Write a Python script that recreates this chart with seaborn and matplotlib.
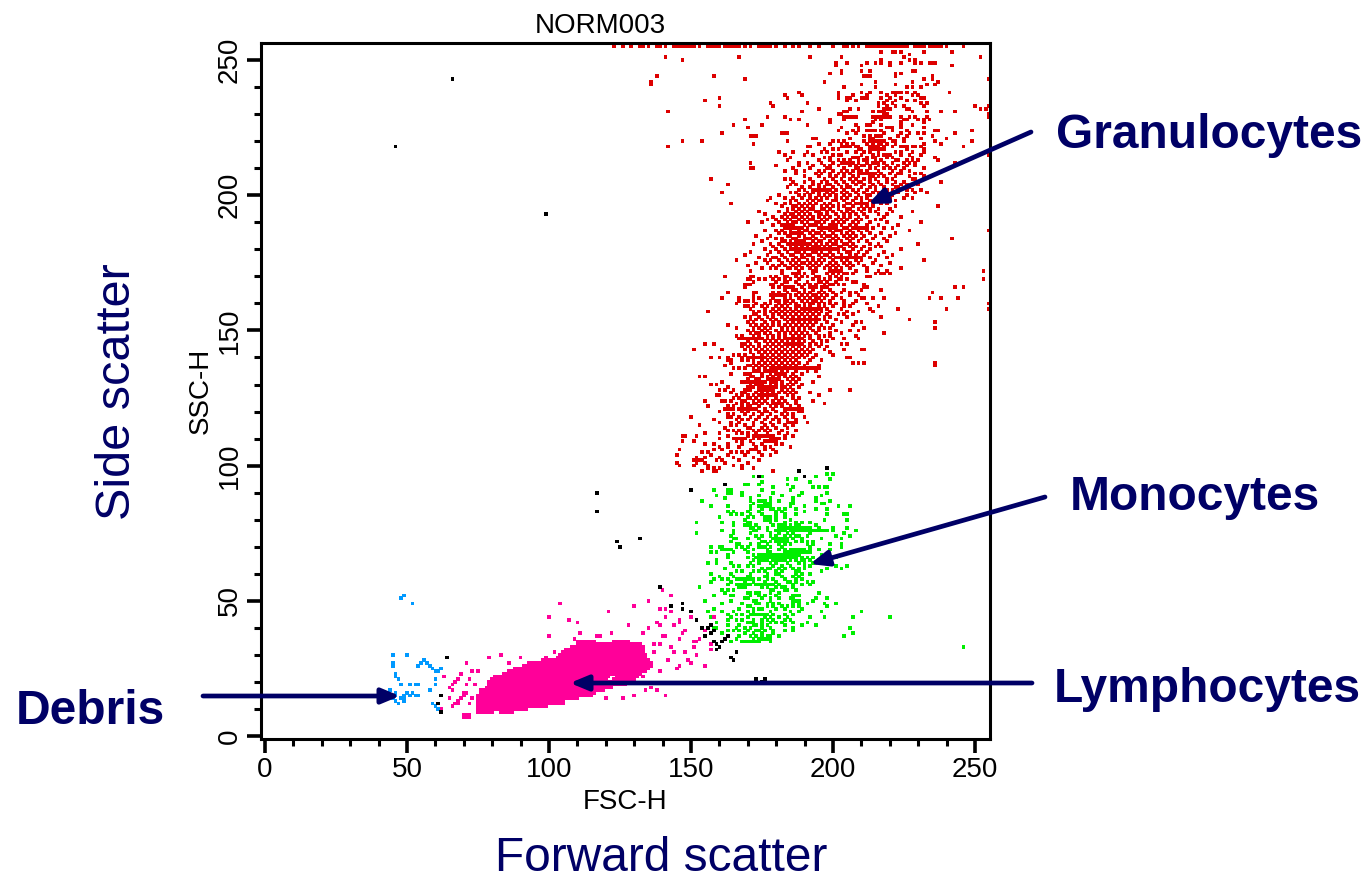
import matplotlib
matplotlib.use("Agg")
import matplotlib.pyplot as plt
from matplotlib.ticker import MultipleLocator
import pandas as pd
import seaborn as sns

# channel values: y level -> x channels
gran_levels = [255, 253, 252, 251, 250, 249, 248, 246, 245, 244, 243, 242, 241, 240, 238, 237, 236, 235, 234, 233, 232,
               231, 230, 229, 228, 227, 226, 225, 224, 223, 222, 221, 220, 219, 218, 217, 216, 215, 214, 213, 212, 211,
               210, 209, 208, 207, 206, 205, 204, 203, 202, 201, 200, 199, 198, 197, 196, 195, 194, 193, 192, 191, 190,
               189, 188, 187, 186, 185, 184, 183, 182, 181, 180, 179, 178, 177, 176, 175, 174, 173]
gran_rows = [
    [123, 126, 129, 132, 133, 135, 138, 139, 141, 144, 145, 146, 147, 148, 149, 150, 151, 153, 156, 157, 158, 159, 160, 162, 163, 164, 165, 166, 167, 169, 171, 174, 175, 176, 177, 178, 180, 183, 186, 188, 192, 195, 200, 204, 205, 207, 209, 212, 213, 214, 215, 216, 217, 218, 219, 220, 221, 222, 223, 224, 225, 226, 229, 230, 231, 232, 234, 235, 236, 237, 238, 240, 246],
    [217, 221, 222, 224, 232, 242],
    [227],
    [141, 167, 192, 203, 225, 252],
    [147, 217, 227, 229],
    [201, 205, 212, 215, 217, 220, 224, 229, 231, 234, 235, 236],
    [201, 210, 220, 242],
    [203, 210, 213, 228, 229],
    [199, 203, 222, 224],
    [138, 158, 211, 212, 213, 222, 235],
    [169, 232, 235, 255],
    [136, 197, 215, 228, 237],
    [136, 210, 222, 233, 236],
    [204, 215, 228, 231, 226],
    [188, 202, 210, 213, 217, 221, 222, 223, 224, 226, 229, 241],
    [183, 189, 202, 207, 212, 219, 222, 228, 230],
    [160, 184, 202, 205, 206, 210, 211, 212, 217, 220, 224, 231, 232],
    [155, 205, 208, 219, 222, 226, 229],
    [178, 191, 216, 218, 221, 231, 233],
    [160, 179, 216, 219, 222, 225, 232, 250, 255],
    [195, 206, 209, 218, 219, 220, 226, 227, 252, 254],
    [142, 189, 204, 205, 214, 216, 217, 218, 228, 233, 238, 243],
    [202, 203, 218, 219, 255],
    [177, 183, 204, 205, 206, 207, 208, 214, 215, 216, 217, 218, 219, 220, 224, 227, 229, 233, 255],
    [169, 185, 188, 199, 204, 215, 217, 225, 226, 230, 232, 234],
    [199, 214, 224, 232],
    [165, 175, 191, 208, 212, 213, 217, 224, 228],
    [170, 203, 209, 219, 220, 221, 224, 232],
    [202, 207, 209, 212, 213, 214, 215, 217, 221, 226, 236, 237, 249],
    [161, 182, 183, 184, 205, 208, 218, 224, 227, 230, 232, 243],
    [171, 172, 173, 211, 213, 215, 216, 217, 223, 226, 235],
    [193, 194, 206, 213, 214, 220, 225, 231, 240],
    [147, 154, 184, 200, 202, 204, 211, 213, 215, 216, 217, 218, 221, 222, 225, 236, 249],
    [172, 195, 199, 203, 205, 207, 212, 214, 216, 217, 219, 222, 232, 238],
    [142, 191, 192, 203, 204, 205, 206, 208, 209, 213, 214, 215, 216, 218, 221, 224, 225, 226, 228, 229, 231, 246],
    [197, 200, 202, 209, 210, 214, 215, 216, 217, 218, 226, 232],
    [181, 186, 191, 196, 198, 205, 208, 211, 213, 216, 222, 224, 228, 232, 255],
    [183, 190, 193, 200, 202, 203, 210, 214, 216, 218, 219, 220, 224, 227, 231, 255],
    [185, 197, 199, 207, 208, 209, 212, 214, 215, 219, 221, 228, 236],
    [184, 195, 199, 202, 204, 206, 209, 211, 212, 215, 217, 222, 223, 226, 228, 230, 237],
    [171, 188, 191, 196, 200, 203, 205, 207, 209, 212, 214, 215, 216, 218, 221, 225, 227, 229, 243],
    [180, 188, 193, 197, 199, 202, 206, 208, 210, 211, 213, 216, 219, 223, 226, 229],
    [171, 172, 186, 192, 198, 199, 204, 208, 209, 213, 215, 218, 220, 222, 225, 232],
    [183, 187, 190, 195, 197, 200, 203, 205, 207, 209, 210, 212, 216, 221, 224, 227],
    [187, 194, 196, 199, 202, 204, 206, 209, 213, 217, 220, 223, 224, 229, 231],
    [190, 195, 199, 201, 204, 207, 209, 213, 214, 216, 218, 222, 227, 232],
    [157, 183, 185, 192, 197, 200, 203, 206, 208, 211, 213, 215, 219, 221, 228, 229],
    [186, 190, 193, 196, 198, 201, 204, 207, 209, 210, 213, 216, 219, 222, 225, 238],
    [163, 185, 187, 193, 195, 198, 199, 202, 205, 208, 211, 214, 217, 221, 224, 226, 230],
    [184, 189, 192, 195, 197, 200, 203, 205, 206, 210, 213, 215, 218, 222, 223, 227],
    [188, 190, 194, 196, 199, 201, 204, 207, 209, 212, 215, 219, 221, 226, 228, 231],
    [161, 185, 187, 191, 193, 195, 198, 200, 203, 205, 208, 211, 214, 216, 219, 223, 229, 233],
    [181, 188, 190, 192, 195, 197, 199, 201, 204, 206, 209, 212, 213, 216, 221, 226],
    [178, 183, 186, 189, 192, 194, 196, 198, 201, 203, 205, 208, 210, 212, 216, 218, 220, 225, 228],
    [177, 185, 187, 191, 193, 195, 196, 200, 201, 204, 207, 210, 213, 215, 218, 222],
    [164, 180, 183, 185, 188, 190, 192, 194, 197, 199, 202, 205, 206, 208, 211, 214, 217, 219],
    [182, 186, 187, 189, 191, 193, 196, 198, 200, 202, 204, 207, 210, 212, 214, 222, 237],
    [184, 186, 188, 190, 192, 193, 196, 197, 199, 202, 205, 206, 209, 211, 213, 216, 220],
    [174, 181, 184, 187, 189, 191, 194, 195, 198, 200, 203, 205, 207, 210, 213, 215, 221, 228],
    [176, 183, 185, 186, 188, 190, 192, 195, 196, 198, 201, 204, 206, 208, 211, 216, 219],
    [179, 182, 184, 186, 187, 189, 191, 193, 195, 197, 199, 202, 204, 206, 209, 212, 218, 224],
    [177, 180, 183, 185, 188, 190, 192, 193, 196, 198, 201, 203, 205, 208, 210, 215, 217],
    [170, 175, 181, 184, 186, 187, 189, 191, 194, 195, 197, 200, 202, 204, 207, 209, 213, 219, 231],
    [179, 182, 183, 184, 185, 186, 190, 192, 193, 194, 196, 199, 200, 201, 203, 206, 208, 212, 216, 223],
    [183, 184, 185, 186, 187, 188, 189, 191, 195, 197, 198, 199, 200, 201, 204, 205, 208, 211, 214, 218, 221],
    [176, 180, 182, 185, 188, 190, 191, 193, 196, 199, 201, 202, 203, 206, 209, 212, 227, 255],
    [181, 183, 186, 187, 189, 192, 194, 195, 197, 200, 203, 205, 207, 210, 213, 217, 222],
    [173, 178, 184, 185, 188, 190, 193, 196, 198, 199, 201, 204, 206, 208, 211, 215, 220],
    [177, 180, 182, 186, 187, 190, 191, 192, 194, 197, 200, 202, 205, 207, 210, 214, 218, 242],
    [175, 182, 183, 185, 187, 188, 189, 190, 193, 195, 196, 199, 201, 203, 206, 209, 212, 219],
    [172, 178, 181, 184, 186, 188, 191, 192, 194, 196, 198, 200, 201, 204, 205, 207, 213, 216, 230],
    [179, 182, 185, 187, 189, 191, 193, 194, 195, 197, 199, 202, 203, 206, 208, 211, 215, 217],
    [176, 180, 183, 185, 186, 189, 190, 192, 195, 198, 200, 201, 204, 207, 210, 213, 224],
    [171, 178, 181, 184, 187, 188, 190, 193, 194, 196, 199, 202, 205, 206, 209, 212, 218],
    [169, 177, 182, 185, 186, 189, 191, 192, 195, 197, 198, 200, 203, 206, 208, 211, 216, 221],
    [174, 179, 180, 183, 187, 189, 190, 193, 196, 199, 201, 202, 204, 207, 213, 219],
    [166, 176, 178, 181, 184, 186, 188, 191, 193, 195, 197, 200, 203, 205, 208, 210, 215, 232],
    [173, 177, 182, 185, 187, 189, 190, 192, 194, 196, 199, 201, 204, 206, 209, 214, 220],
    [170, 179, 181, 183, 186, 188, 191, 193, 195, 198, 200, 202, 205, 207, 211, 217],
    [175, 178, 180, 184, 185, 187, 189, 192, 194, 197, 199, 201, 203, 206, 212, 224],
]
gran_mid_levels = [172, 171, 170, 169, 168, 167, 166, 165, 164, 163, 162, 161, 160, 159, 158, 157, 156, 155, 154, 153,
                   152, 151, 150, 149, 148, 147, 146, 145, 144, 143, 142, 141, 140, 139, 138, 137, 136, 135, 134, 133,
                   132, 131, 130, 129, 128, 127, 126, 125, 124, 123, 122, 121, 120, 119, 118, 117, 116, 115, 114, 113,
                   112, 111, 110, 109, 108, 107, 106, 105, 104, 103, 102, 101, 100, 99, 98]
gran_mid_rows = [
    [171, 182, 188, 193, 194, 199, 200, 201, 202, 203, 208, 212, 216, 219, 253],
    [182, 186, 187, 188, 190, 193, 198, 200, 202, 204, 205, 207, 215, 217, 218, 220],
    [162, 171, 172, 178, 180, 183, 184, 187, 189, 191, 194, 195, 199, 201, 203, 212, 213],
    [170, 171, 174, 176, 179, 181, 183, 185, 188, 193, 195, 197, 199, 202, 203, 205, 253],
    [172, 180, 183, 184, 187, 191, 195, 196, 198, 201, 207, 208],
    [178, 179, 182, 188, 190, 192, 194, 197, 199, 200, 202, 204, 211],
    [169, 179, 181, 183, 184, 185, 186, 189, 192, 193, 194, 196, 197, 198, 211, 212, 243, 246],
    [183, 186, 187, 190, 193, 196, 199, 204, 210, 217],
    [163, 172, 173, 179, 181, 184, 188, 190, 192, 195, 197, 200, 203, 206, 208, 235],
    [172, 181, 183, 185, 187, 189, 191, 193, 194, 196, 198, 201, 206, 209],
    [161, 167, 172, 174, 179, 183, 185, 188, 190, 192, 194, 195, 197, 200, 203, 210, 211, 214, 218, 234, 238, 244],
    [167, 169, 170, 172, 178, 180, 181, 183, 184, 186, 189, 191, 193, 194, 196, 199, 204, 208],
    [166, 173, 176, 178, 181, 183, 185, 187, 190, 192, 193, 195, 197, 199, 201, 204, 207, 212, 255],
    [169, 170, 172, 175, 177, 180, 182, 184, 187, 188, 190, 192, 195, 197, 200, 204, 206, 216],
    [171, 176, 179, 181, 183, 185, 187, 189, 191, 193, 196, 198, 203, 213, 223, 240, 255],
    [156, 172, 174, 176, 178, 180, 182, 184, 186, 188, 190, 192, 194, 196, 199, 205, 209, 214],
    [172, 173, 176, 179, 181, 183, 185, 187, 189, 191, 193, 195, 198, 202, 204, 207],
    [169, 171, 174, 177, 179, 182, 184, 186, 188, 190, 192, 194, 197, 199, 205, 217],
    [171, 173, 175, 178, 180, 183, 185, 187, 189, 191, 193, 195, 197, 201, 227],
    [170, 172, 176, 179, 181, 184, 186, 188, 190, 192, 194, 198, 203, 208, 210, 236],
    [163, 171, 173, 175, 177, 179, 181, 183, 185, 187, 189, 191, 193, 196, 200, 207],
    [166, 172, 174, 176, 178, 182, 184, 186, 188, 190, 192, 195, 197, 199, 211, 236],
    [170, 172, 175, 177, 180, 182, 184, 186, 188, 190, 193, 195, 201, 206, 209],
    [171, 173, 174, 176, 178, 181, 183, 185, 187, 189, 191, 194, 199, 203, 218],
    [166, 168, 172, 174, 177, 179, 181, 183, 186, 188, 190, 192, 195, 197, 199, 208],
    [172, 174, 175, 177, 179, 181, 183, 185, 187, 189, 192, 195, 200, 204, 209],
    [170, 173, 176, 178, 180, 182, 184, 186, 188, 190, 193, 196, 198],
    [155, 158, 168, 169, 171, 174, 177, 179, 181, 183, 185, 187, 189, 192, 194, 196, 203, 205],
    [168, 170, 172, 174, 176, 178, 180, 182, 184, 186, 188, 190, 192, 195, 198],
    [151, 161, 169, 171, 173, 175, 177, 179, 181, 183, 185, 187, 189, 191, 193, 197, 204, 210, 211],
    [171, 174, 176, 178, 180, 182, 184, 186, 188, 190, 192, 199],
    [165, 167, 169, 172, 175, 177, 179, 181, 183, 185, 187, 189, 191, 194, 200],
    [157, 160, 163, 168, 171, 174, 176, 178, 180, 182, 184, 186, 188, 190, 193, 205, 206],
    [163, 164, 168, 170, 172, 175, 177, 179, 181, 183, 185, 187, 192, 196],
    [164, 172, 174, 176, 178, 180, 182, 184, 186, 188, 191, 207, 209, 211, 236],
    [162, 170, 171, 173, 175, 177, 179, 181, 183, 185, 187, 190, 195, 236],
    [165, 167, 169, 172, 174, 176, 178, 180, 182, 184, 186, 188, 193],
    [172, 173, 176, 177, 178, 179, 180, 182, 184, 187, 191, 194],
    [164, 169, 170, 171, 175, 178, 181, 183, 186, 189],
    [153, 155, 171, 172, 175, 177, 179, 181, 183, 185, 187, 195],
    [170, 173, 174, 177, 178, 179, 180, 181, 184, 186, 188],
    [161, 170, 172, 176, 178, 179, 180, 182, 185, 187, 193],
    [157, 159, 171, 173, 174, 175, 178, 180, 182, 184, 186, 189],
    [163, 170, 171, 172, 174, 177, 179, 182, 183, 185, 188],
    [160, 162, 165, 169, 170, 171, 174, 176, 179, 182, 184, 186, 199, 206],
    [164, 168, 169, 173, 175, 177, 179, 181, 183, 185, 187, 192],
    [159, 160, 166, 168, 170, 172, 174, 176, 178, 180, 184, 186, 195],
    [165, 167, 170, 171, 173, 175, 177, 180, 182, 186, 188],
    [155, 161, 162, 164, 168, 169, 172, 174, 176, 179, 181, 183, 187, 193],
    [166, 168, 170, 172, 173, 175, 177, 180, 184, 187, 197],
    [156, 163, 165, 168, 170, 171, 174, 178, 180, 182, 185, 188],
    [162, 164, 167, 169, 172, 173, 176, 179, 183, 186],
    [160, 168, 170, 174, 176, 177, 180, 183, 188, 189],
    [163, 165, 169, 172, 175, 178, 182, 184, 186],
    [150, 163, 164, 167, 171, 174, 177, 180, 183, 186, 190],
    [158, 166, 168, 170, 173, 176, 179, 181, 184, 187],
    [160, 164, 167, 172, 175, 178, 181, 185, 191],
    [153, 164, 166, 169, 172, 176, 179, 183, 186],
    [162, 170, 171, 175, 177, 180, 184],
    [163, 165, 167, 172, 174, 176, 178, 182, 187],
    [155, 160, 166, 168, 170, 173, 177, 181, 184],
    [147, 148, 152, 163, 170, 172, 175, 179, 183, 186],
    [160, 165, 167, 172, 174, 178, 180, 183],
    [147, 151, 166, 168, 171, 176, 177, 178, 179, 180],
    [155, 158, 163, 168, 172, 175, 180, 182],
    [160, 163, 167, 173, 176, 178, 185],
    [146, 158, 161, 171, 172, 173, 176, 179],
    [154, 156, 164, 166, 168, 170, 174, 180],
    [145, 157, 163, 169, 175, 178],
    [152, 155, 160, 165, 172],
    [151, 152, 153, 154, 159, 161, 167, 174],
    [145, 152, 155, 162, 170],
    [146, 151, 156, 165, 168],
    [156, 158, 160, 168, 172],
    [154, 158, 159, 179],
]
# short solid dashes seen inside the granulocyte cloud
gran_run_levels = [167, 163, 158, 154, 147, 147, 145, 140, 136, 135, 134, 131, 129, 128, 126, 123, 121, 121, 121, 116,
                   111, 110, 110, 180, 177, 182, 186, 188, 188, 197, 202, 208, 212, 217, 220, 224, 229, 229]
gran_run_starts = [169, 178, 189, 186, 167, 184, 184, 170, 178, 172, 180, 168, 175, 175, 174, 179, 162, 167, 184, 184,
                   172, 166, 178, 187, 202, 184, 185, 195, 207, 208, 193, 210, 203, 213, 213, 212, 214, 205]
gran_run_ends = [171, 182, 195, 194, 175, 188, 188, 175, 195, 174, 183, 175, 180, 179, 179, 182, 165, 171, 189, 187,
                 178, 169, 181, 202, 210, 192, 188, 199, 212, 212, 198, 215, 206, 215, 216, 215, 220, 208]

# monocytes: same layout
mono_levels = [97, 96, 95, 94, 93, 92, 91, 90, 89, 88, 87, 86, 85, 84, 83, 82, 81, 80, 79, 78, 77, 76, 75, 74, 73, 72, 71, 70,
               69, 68, 67, 66, 65, 64, 63, 62, 61, 60, 59, 58, 57, 56, 55, 54, 53, 52, 51, 50, 49, 48, 47, 46, 45, 44,
               43, 42, 41, 40, 39, 38, 37, 36, 35, 33]
mono_rows = [
    [198, 200],
    [172, 175, 194],
    [184, 187, 199],
    [175, 192],
    [169, 170, 174, 184],
    [179, 186, 193, 195, 197, 198],
    [158, 163, 164, 175, 185],
    [163, 164, 168, 179, 189, 198],
    [159, 168, 174, 182, 188, 196],
    [162, 171, 178, 186, 194],
    [154, 171, 174, 175, 176, 178, 181, 186, 194, 199],
    [172, 176, 177, 178, 185, 186, 196, 197],
    [157, 163, 171, 178, 185, 190, 202, 206],
    [171, 175, 178, 179, 181, 183, 187, 194, 198],
    [163, 165, 170, 174, 180, 182, 190],
    [164, 166, 168, 171, 175, 180, 183, 187, 198, 204, 205],
    [160, 170, 172, 176, 177, 178, 180, 183],
    [169, 176, 177, 178, 180, 185, 197, 205],
    [152, 161, 165, 170, 171, 178, 183, 187, 189, 192],
    [165, 169, 170, 171, 173, 179, 181, 182, 183, 185, 187, 188, 194],
    [171, 172, 174, 177, 181, 183, 185, 186, 187, 188, 189, 190, 191, 192, 195, 200, 205],
    [161, 165, 172, 173, 177, 180, 181, 182, 183, 186, 188, 194, 196, 198, 200, 208],
    [152, 165, 171, 178, 181, 184, 186, 192, 204],
    [164, 173, 175, 178, 180, 183, 185, 187, 188, 191, 201, 206],
    [165, 166, 170, 174, 179, 181, 184, 186, 189, 196, 203],
    [164, 175, 176, 178, 180, 181, 182, 183, 184, 187, 189, 191, 193],
    [166, 167, 171, 174, 177, 181, 183, 185, 191, 193, 199, 203],
    [157, 160, 161, 166, 168, 170, 174, 175, 176, 178, 182, 192, 203],
    [163, 164, 169, 172, 177, 181, 183, 185, 186, 187, 188, 189, 190, 192, 195, 199],
    [157, 159, 165, 170, 177, 178, 183, 187, 190, 192],
    [163, 172, 174, 176, 179, 181, 183, 185, 186, 188, 196],
    [163, 170, 175, 177, 178, 179, 181, 183, 185, 187, 189, 191, 193, 198, 201],
    [159, 172, 174, 175, 176, 177, 179, 180, 181, 182, 183, 185, 187, 189, 190, 192, 195],
    [156, 159, 164, 171, 174, 178, 180, 184, 188, 190, 193],
    [165, 167, 170, 172, 179, 182, 185, 190, 192, 201, 205],
    [162, 175, 177, 178, 181, 183, 186, 188, 190, 198, 203],
    [166, 168, 172, 174, 176, 180, 182, 187, 188, 196],
    [157, 164, 171, 177, 180, 181, 187, 189, 192],
    [160, 165, 170, 171, 176, 177, 182, 186, 188],
    [158, 161, 163, 171, 172, 174, 177, 179, 183, 187, 189],
    [157, 164, 169, 172, 176, 180, 184, 185, 187, 191, 193],
    [163, 166, 168, 171, 173, 176, 178, 179, 181, 186, 189, 192],
    [153, 167, 168, 169, 175, 177, 180, 182, 183, 186],
    [161, 163, 165, 178, 179, 183, 184, 187],
    [162, 170, 171, 173, 174, 178, 181, 195],
    [158, 164, 165, 171, 174, 176, 180, 186, 187, 188],
    [169, 170, 175, 178, 181, 185, 186, 194, 198],
    [155, 164, 172, 173, 178, 186, 187, 188, 193],
    [161, 168, 173, 174, 177, 179, 181, 186, 188, 191, 197, 201],
    [170, 171, 177, 179, 182, 184, 186, 188, 198],
    [158, 167, 172, 174, 175, 180, 183, 189],
    [156, 161, 165, 170, 172, 178, 185, 188, 196, 210],
    [163, 166, 168, 172, 173, 174, 175, 176, 177, 179, 183, 186],
    [157, 164, 170, 176, 178, 181, 184, 192, 197, 207, 220],
    [163, 166, 168, 172, 175, 177, 179, 183, 185],
    [159, 170, 171, 172, 175, 178, 180, 182, 186, 191],
    [163, 167, 172, 173, 175, 177, 183, 189, 194],
    [158, 159, 166, 169, 171, 175, 178, 186, 206],
    [163, 165, 167, 170, 173, 174, 176, 179, 183, 186],
    [161, 169, 172, 175, 179, 207],
    [163, 167, 171, 173, 175, 177, 178, 181, 204],
    [166, 172, 174, 175, 176, 177, 178],
    [164, 169, 178],
    [246],
]
mono_run_levels = [85, 77, 76, 73, 68, 67, 66, 69, 56, 56, 58, 45, 35]
mono_run_starts = [174, 181, 185, 179, 183, 174, 173, 161, 174, 166, 166, 171, 168]
mono_run_ends = [178, 185, 197, 184, 192, 188, 187, 164, 178, 171, 170, 176, 174]

# lymphocytes: contiguous runs for the solid part
lymph_levels = [7, 8, 9, 9, 10, 11, 12, 13, 14, 15, 16, 17, 18, 19, 20, 20, 21, 21, 22, 22, 23, 24, 25, 26, 27, 28, 29,
                30, 31, 32, 33, 34, 35, 35]
lymph_starts = [70, 70, 75, 83, 75, 75, 75, 75, 75, 75, 76, 76, 78, 79, 79, 121, 80, 123, 81, 124, 84, 86, 88, 91, 94, 98,
                103, 104, 105, 106, 108, 110, 110, 123]
lymph_ends = [72, 72, 80, 87, 92, 99, 105, 105, 110, 115, 116, 119, 122, 127, 118, 127, 120, 130, 121, 131, 132, 134, 135, 136, 136, 135,
              134, 134, 133, 133, 133, 132, 116, 128]
lymph_stray_x = [62, 63, 65, 68, 69, 70, 71, 72, 73, 65, 66, 67, 69, 71, 75, 79, 83, 86, 90, 93, 96, 99, 102, 107,
                 112, 116, 119, 122, 127, 134, 135, 137, 139, 140, 142, 143, 145, 146, 148, 150, 151, 152, 153, 155, 157,
                 133, 134, 136, 137, 139, 141, 144, 146, 148, 149, 152, 120, 126, 130, 134, 138, 141, 118, 104, 109, 111,
                 117, 122, 128, 133, 135, 139, 143, 146, 147, 150, 155, 158, 110, 107, 100, 104, 100, 138, 141, 146,
                 147, 151, 157, 121, 130, 135, 143, 140, 139, 141, 144, 66, 67, 68, 70, 71, 74, 66, 68, 70, 72, 73]
lymph_stray_y = [10, 22, 18, 12, 14, 16, 19, 21, 24, 14, 17, 20, 23, 27, 24, 29, 30, 27, 29, 27, 25, 29, 31, 27,
                 30, 32, 33, 30, 35, 24, 28, 31, 34, 37, 28, 33, 25, 36, 31, 27, 33, 30, 36, 26, 32,
                 22, 29, 18, 34, 24, 37, 31, 26, 39, 28, 35, 14, 14, 15, 17, 17, 15, 37, 16, 36, 38,
                 37, 38, 41, 38, 40, 41, 46, 42, 47, 44, 39, 44, 42, 43, 44, 49, 37, 42, 47, 43,
                 38, 35, 34, 46, 48, 50, 52, 54, 47, 44, 41, 11, 12, 13, 15, 16, 19, 19, 21, 15, 12, 14]

debris_x = [45, 45, 45, 50, 48, 49, 52, 54, 55, 56, 57, 58, 59, 60, 46, 46, 47, 48, 48, 51, 53, 54, 60, 61, 62, 44, 46,
            46, 48, 49, 49, 51, 52, 53, 54, 58, 60, 46, 47, 61, 60, 50, 49, 59, 45]
debris_y = [30, 27, 26, 30, 51, 52, 49, 26, 27, 28, 27, 26, 25, 24, 23, 22, 21, 19, 19, 19, 19, 19, 21, 24, 25, 17, 16,
            15, 14, 14, 15, 15, 16, 15, 15, 17, 19, 13, 12, 10, 11, 16, 13, 12, 14]

other_x = [66, 46, 99, 117, 117, 124, 125, 132, 150, 139, 174, 188, 190, 198, 162, 155, 156, 157, 158, 159, 160,
           161, 152, 143, 147, 150, 159, 162, 164, 165, 166, 62, 64, 61, 62, 175, 173, 154, 157, 158, 163, 147, 176]
other_y = [243, 218, 193, 90, 83, 72, 70, 73, 91, 55, 96, 98, 96, 99, 93, 37, 40, 38, 39, 34, 33, 35, 43, 48, 47, 46, 32,
           36, 29, 28, 31, 15, 29, 12, 9, 20, 21, 40, 41, 35, 37, 49, 21]

pop_colors = {"granulocytes": "#dd0000", "monocytes": "#00ee00", "lymphocytes": "#ff0099",
              "debris": "#0099ff", "other": "#000000"}


def rows_to_frame(levels, rows, name):
    recs = [(x, y) for y, xs in zip(levels, rows) for x in xs]
    df = pd.DataFrame(recs, columns=["fsc", "ssc"])
    df["pop"] = name
    return df


def runs_to_frame(levels, starts, ends, name):
    recs = [(x, y) for y, a, b in zip(levels, starts, ends) for x in range(a, b + 1)]
    df = pd.DataFrame(recs, columns=["fsc", "ssc"])
    df["pop"] = name
    return df


frames = [
    rows_to_frame(gran_levels, gran_rows, "granulocytes"),
    rows_to_frame(gran_mid_levels, gran_mid_rows, "granulocytes"),
    runs_to_frame(gran_run_levels, gran_run_starts, gran_run_ends, "granulocytes"),
    rows_to_frame(mono_levels, mono_rows, "monocytes"),
    runs_to_frame(mono_run_levels, mono_run_starts, mono_run_ends, "monocytes"),
    runs_to_frame(lymph_levels, lymph_starts, lymph_ends, "lymphocytes"),
    pd.DataFrame({"fsc": lymph_stray_x, "ssc": lymph_stray_y, "pop": "lymphocytes"}),
    pd.DataFrame({"fsc": debris_x, "ssc": debris_y, "pop": "debris"}),
    pd.DataFrame({"fsc": other_x, "ssc": other_y, "pop": "other"}),
]
df = pd.concat(frames, ignore_index=True)

sns.set_style("white")
plt.rcParams["font.family"] = ["Liberation Sans", "DejaVu Sans"]

W, H = 1369, 875
fig = plt.figure(figsize=(W / 100, H / 100), dpi=100)
ax = fig.add_axes([261 / W, 1 - 739 / H, (990 - 261) / W, (739 - 43) / H])

sns.scatterplot(data=df, x="fsc", y="ssc", hue="pop", palette=pop_colors, marker="s", s=7,
                linewidth=0, legend=False, ax=ax)

ax.set_xlim(-1.4, 255.3)
ax.set_ylim(-1.1, 256.3)
ax.xaxis.set_major_locator(MultipleLocator(50))
ax.yaxis.set_major_locator(MultipleLocator(50))
ax.xaxis.set_minor_locator(MultipleLocator(10))
ax.yaxis.set_minor_locator(MultipleLocator(10))
ax.tick_params(which="major", bottom=True, left=True, length=10, width=2.6, color="black", labelsize=20, pad=3, labelcolor="black")
ax.tick_params(which="minor", bottom=True, left=True, length=5, width=2.2, color="black")
plt.setp(ax.get_yticklabels(), rotation=90, va="center")
for s in ax.spines.values():
    s.set_visible(True)
    s.set_linewidth(2.2)
    s.set_color("black")
ax.set_xlabel("FSC-H", fontsize=20, labelpad=4, color="black")
ax.set_ylabel("SSC-H", fontsize=20, labelpad=2, color="black")
ax.set_title("NORM003", fontsize=20, pad=7, color="black", x=0.465)


def fx(px):
    return px / W


def fy(py):
    return 1 - py / H


navy = "#000066"
fig.text(fx(117), fy(392), "Side scatter", color=navy, fontsize=35, rotation=90, ha="center", va="center")
fig.text(fx(661), fy(871), "Forward scatter", color=navy, fontsize=34.5, ha="center", va="baseline")

labels = ["Granulocytes", "Monocytes", "Lymphocytes", "Debris"]
label_pos = [(1209, 136), (1195, 497), (1207, 690), (90, 712)]
arrow_tails = [(1031, 132), (1045, 497), (1032, 683), (203, 696)]
arrow_heads = [(868, 204), (810, 564), (570, 683), (400, 696)]
for name, lp, tail, head in zip(labels, label_pos, arrow_tails, arrow_heads):
    fig.text(fx(lp[0]), fy(lp[1]), name, color=navy, fontsize=34.5, fontweight="bold", ha="center", va="center")
    ax.annotate("", xy=(fx(head[0]), fy(head[1])), xytext=(fx(tail[0]), fy(tail[1])),
                xycoords="figure fraction", textcoords="figure fraction",
                arrowprops=dict(arrowstyle="-|>,head_length=0.6,head_width=0.25", color=navy, lw=3.4,
                                shrinkA=0, shrinkB=0, mutation_scale=18))

fig.savefig("out.png", dpi=100)
